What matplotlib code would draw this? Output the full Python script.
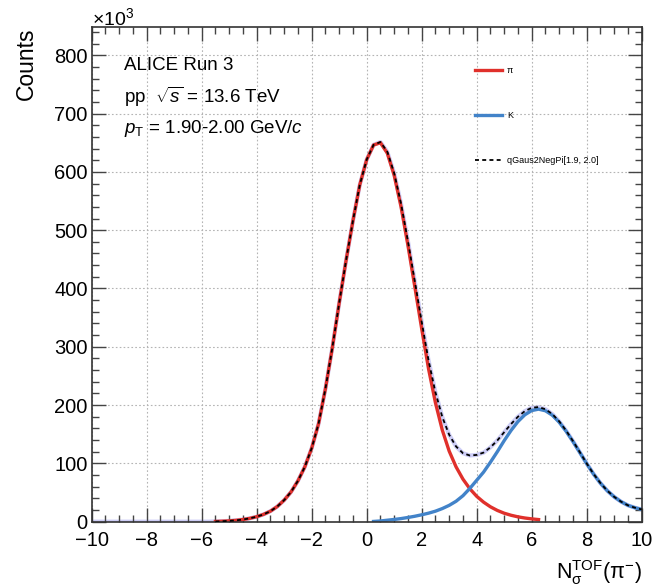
import numpy as np
import matplotlib
matplotlib.use('Agg')
import matplotlib.pyplot as plt
from matplotlib.ticker import MultipleLocator

plt.rcParams['font.family'] = ['Liberation Sans', 'DejaVu Sans']
plt.rcParams['mathtext.fontset'] = 'custom'
plt.rcParams['mathtext.rm'] = 'Liberation Sans'
plt.rcParams['mathtext.it'] = 'Liberation Sans:italic'
plt.rcParams['mathtext.bf'] = 'Liberation Sans:bold'
plt.rcParams['mathtext.sf'] = 'Liberation Sans'

pion_x = np.round(np.arange(-5.5, 6.26, 0.25), 2)
kaon_x = np.round(np.arange(0.25, 10.01, 0.25), 2)
fit_x = np.round(np.arange(-5.5, 10.01, 0.25), 2)
data_x = np.round(np.arange(-10.0, 10.01, 0.25), 2)

# counts in units of 10^3
pion_counts = [0.4, 0.8, 1.4, 2.3, 3.7, 5.7, 8.5, 12.5, 18, 26, 37, 51, 70, 94, 126,
               168, 228, 298, 375, 448, 516, 578, 621,
               646, 650, 632, 594, 540, 474, 403, 331, 262, 204, 157, 121, 94, 73,
               56.5, 43.5, 33.5, 25.5, 19.3, 14.5, 11, 8.3, 6.3, 4.8, 3.6]
kaon_counts = [0.4, 1.2, 2.5, 3.8, 5.3, 7.2, 9.3, 11.8, 14.6, 18, 22.5, 28, 35, 44.5,
               57, 71, 85, 102, 120, 139, 156.5, 171.7, 183.3, 190.6, 193,
               190.2, 182.6, 170.6, 155.2, 137.5, 118.6, 99.5, 81.6, 66, 53, 42.5,
               34.3, 28, 24, 21]
fit_counts = [0.4, 0.8, 1.4, 2.3, 3.7, 5.7, 8.5, 12.5, 18, 26, 37, 51, 70, 94, 126,
              168, 228, 298, 375, 448, 516, 578, 621,
              646.4, 651.2, 634.5, 597.8, 545.3, 481.2, 412.3, 342.8, 276.6, 222,
              179.5, 149, 129, 117.5, 113.5, 114.5, 118.5, 127.5, 139.3, 153.5,
              167.5, 180, 189.6, 195.4, 196.6,
              192.9, 184.6, 172.1, 156.3, 138.3, 119.2, 99.9, 81.9, 66.2, 53.1,
              42.6, 34.3, 28, 24, 21]
data_counts = [0.0] * 18 + fit_counts

legend_labels = ['\u03c0', 'K', 'qGaus2NegPi[1.9, 2.0]']

red = '#e0302b'
blue = '#4283c9'

fig = plt.figure(figsize=(6.52, 5.88), dpi=100)
ax = fig.add_axes([0.1406, 0.1128, 0.8436, 0.8408])

ax.plot(data_x, data_counts, color='#7272e6', lw=3.0, alpha=0.35, zorder=1,
        solid_joinstyle='round')
l_pi, = ax.plot(pion_x, pion_counts, color=red, lw=2.4, zorder=2,
                solid_joinstyle='round')
l_k, = ax.plot(kaon_x, kaon_counts, color=blue, lw=2.4, zorder=2,
               solid_joinstyle='round')
l_fit, = ax.plot(fit_x, fit_counts, color='black', lw=1.3,
                 linestyle=(0, (2.2, 1.8)), zorder=3)

ax.set_xlim(-10, 10)
ax.set_ylim(0, 848)
ax.xaxis.set_major_locator(MultipleLocator(2))
ax.xaxis.set_minor_locator(MultipleLocator(0.5))
ax.yaxis.set_major_locator(MultipleLocator(100))
ax.yaxis.set_minor_locator(MultipleLocator(20))
ax.grid(True, which='major', color='#b4b4b4', linestyle=(0, (1.5, 2)), lw=0.8)
ax.tick_params(which='both', direction='in', top=True, right=True,
               color='#444444', width=1.0, labelsize=14.5)
ax.tick_params(which='major', length=10)
ax.tick_params(which='minor', length=5)
ax.tick_params(axis='x', pad=7)
ax.tick_params(axis='y', pad=3)
for s in ax.spines.values():
    s.set_linewidth(1.2)
    s.set_color('#333333')

ax.legend([l_pi, l_k, l_fit], legend_labels, loc='upper left',
          bbox_to_anchor=(0.697, 0.922), frameon=False, fontsize=6.5,
          handlelength=3.0, handletextpad=0.55, labelspacing=4.0,
          borderaxespad=0, borderpad=0)

fig.text(0.190, 0.888, 'ALICE Run 3', fontsize=13.5, va='center')
fig.text(0.190, 0.835, r'pp  $\sqrt{s}$ = 13.6 TeV', fontsize=13.5, va='center')
fig.text(0.190, 0.781, r'$p_{\mathrm{T}}$ = 1.90-2.00 GeV/$c$', fontsize=13.5, va='center')

fig.text(0.141, 0.9575, '\u00d710$^{3}$', fontsize=14, va='baseline')
fig.text(0.041, 0.891, 'Counts', fontsize=16.5, rotation=90, ha='center', va='center')
fig.text(0.985, 0.026, r'$\mathregular{N_{\sigma}^{TOF}(\pi^{-})}$', fontsize=15.5,
         ha='right', va='center')

fig.savefig('out.png', dpi=100)
